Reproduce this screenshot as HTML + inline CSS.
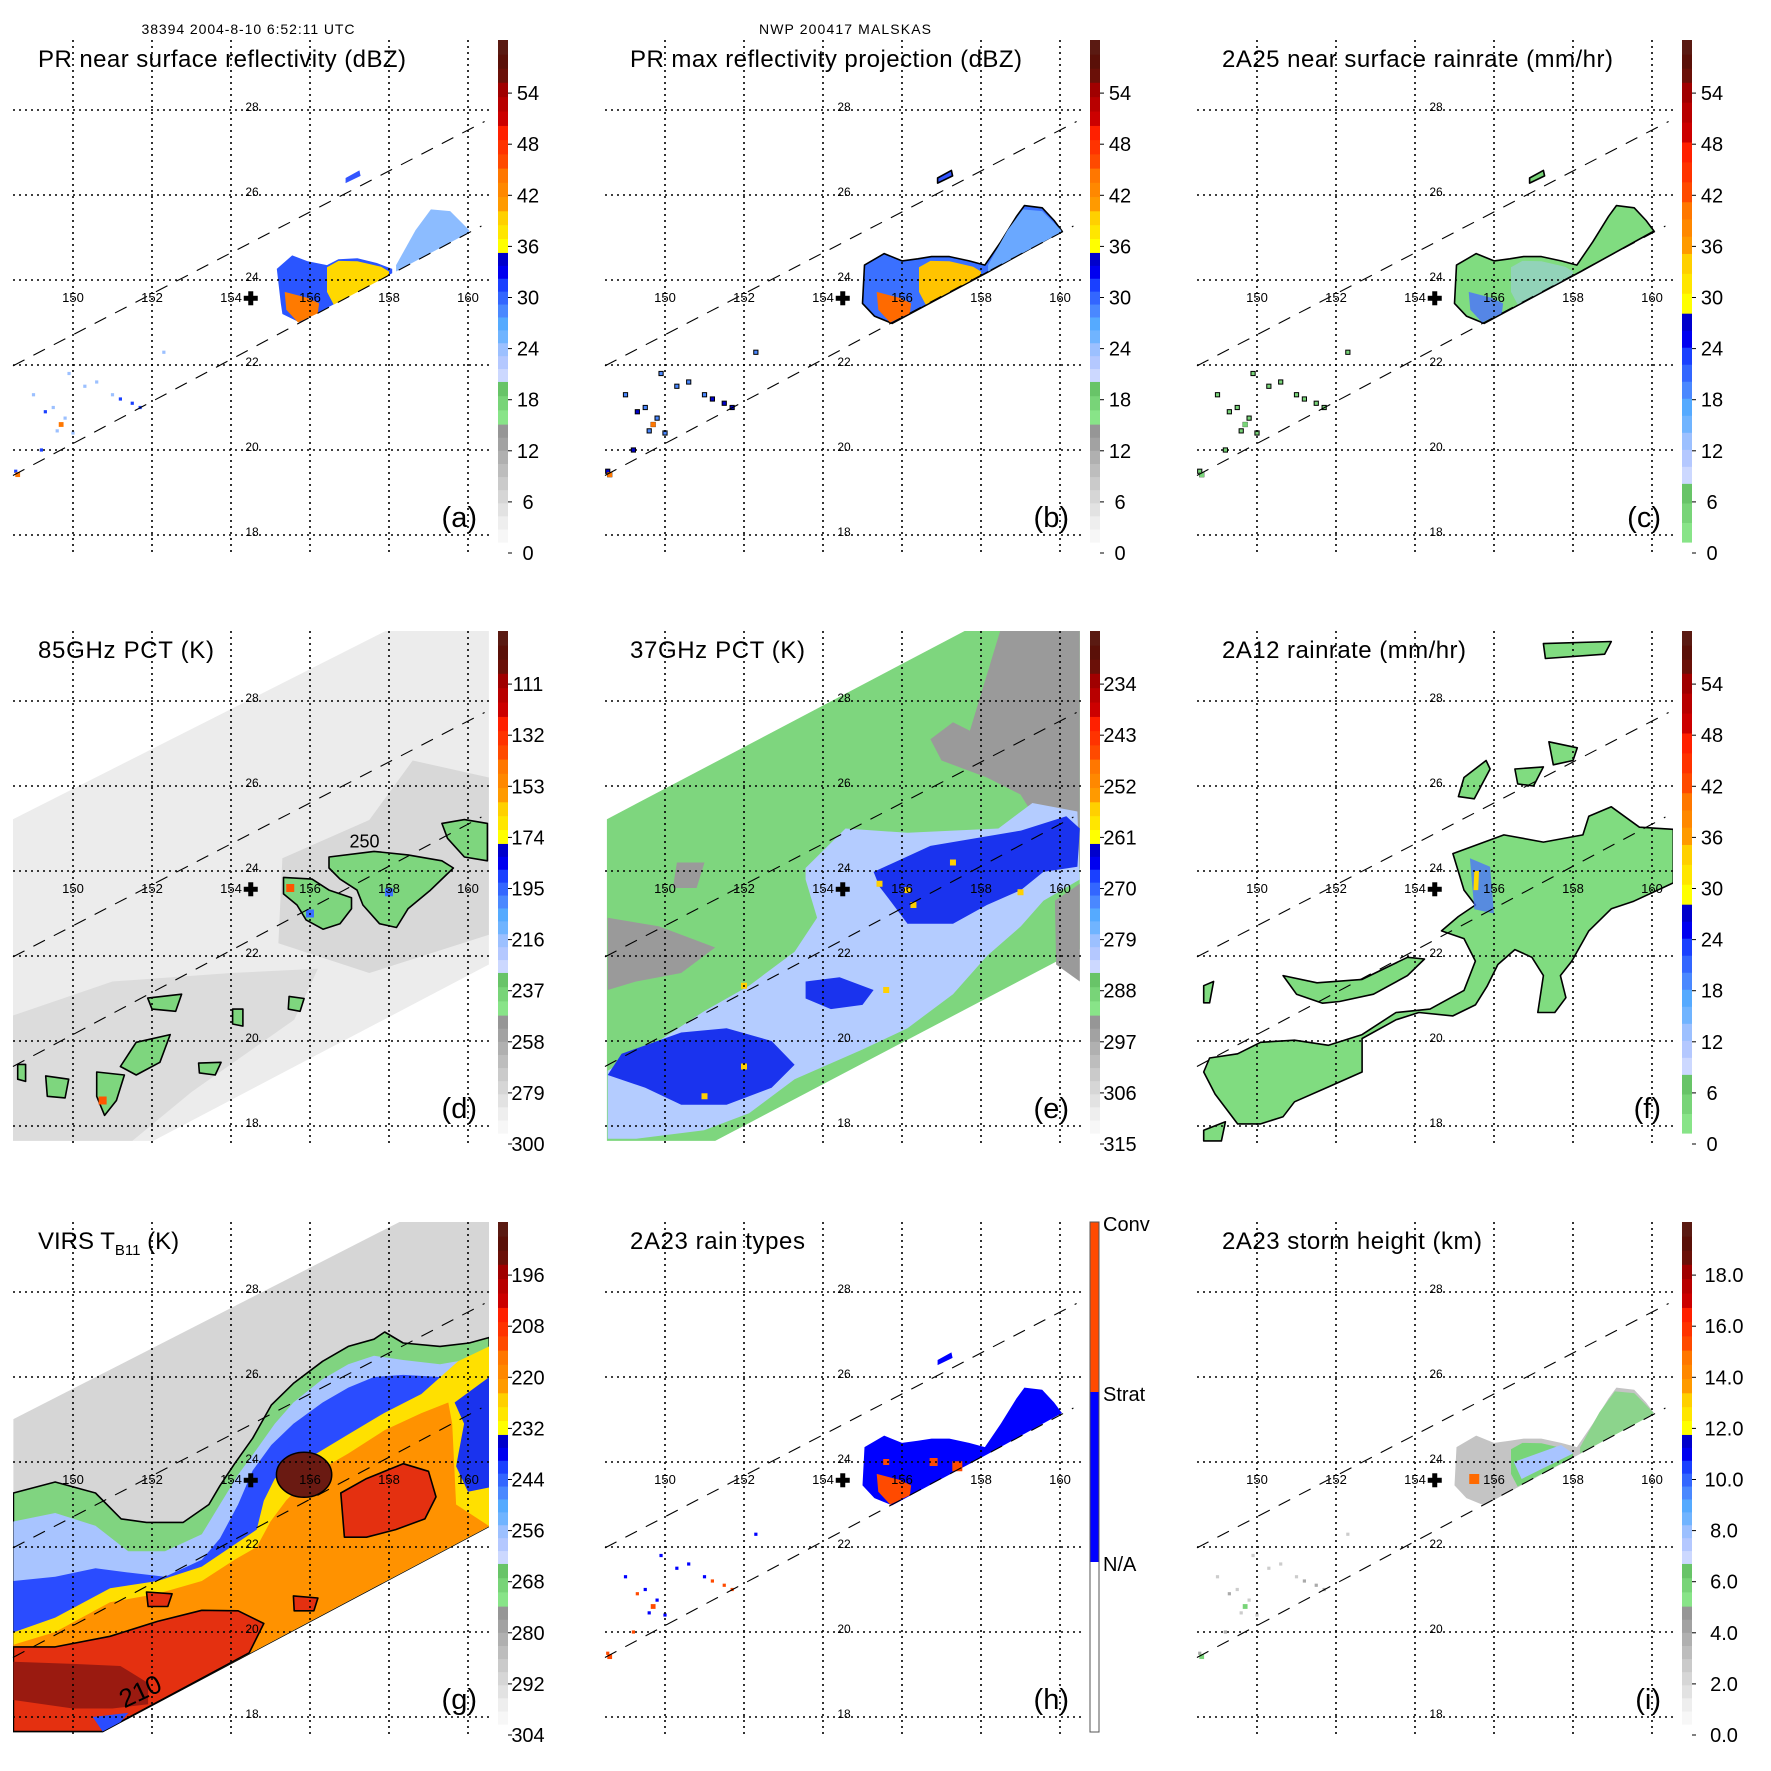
<!DOCTYPE html>
<html><head><meta charset="utf-8"><style>
html,body{margin:0;padding:0;background:#fff;}
svg{display:block;font-family:"Liberation Sans",Arial,sans-serif;}
</style></head><body>
<svg id="fig" xmlns="http://www.w3.org/2000/svg" width="1771" height="1771" viewBox="0 0 1771 1771">
<rect x="0" y="0" width="1771" height="1771" fill="#fff"/>
<defs><clipPath id="plotclip" clipPathUnits="userSpaceOnUse"><rect x="13" y="40" width="476" height="512"/></clipPath></defs>
<text x="248" y="34" font-size="14" text-anchor="middle" textLength="213">38394 2004-8-10 6:52:11 UTC</text>
<text x="845" y="34" font-size="14" text-anchor="middle" textLength="172">NWP 200417 MALSKAS</text>
</svg>
<script>
const LON_TICKS=[150,152,154,156,158,160];
const LAT_TICKS=[18,20,22,24,26,28];
const CB_DBZ=['0','6','12','18','24','30','36','42','48','54'];
const CB_RAIN=['0','6','12','18','24','30','36','42','48','54'];
const CB_85=['300','279','258','237','216','195','174','153','132','111'];
const CB_37=['315','306','297','288','279','270','261','252','243','234'];
const CB_VIRS=['304','292','280','268','256','244','232','220','208','196'];
const CB_HGT=['0.0','2.0','4.0','6.0','8.0','10.0','12.0','14.0','16.0','18.0'];
const CB_TYPES=['N/A','Strat','Conv'];
const SWATH_LO=[[148.48,19.40],[160.34,25.27]];
const SWATH_HI=[[148.48,21.98],[160.42,27.73]];
const STATION=[154.5,23.57];

const CL_ENV=[[155.0,23.45],[155.05,24.35],[155.55,24.62],[156.0,24.45],[156.4,24.5],[156.75,24.55],[157.2,24.55],[157.7,24.45],[158.1,24.35],[158.5,24.9],[158.9,25.5],[159.1,25.75],[159.55,25.7],[159.85,25.4],[160.05,25.15],[158.2,24.2],[155.75,22.98],[155.3,23.15]];
const CL_BLUE=[[155.26,23.45],[155.16,24.26],[155.55,24.58],[155.94,24.44],[156.43,24.35],[156.72,24.49],[157.2,24.51],[157.69,24.4],[158.08,24.26],[158.08,24.16],[155.74,23.0],[155.3,23.2]];
const CL_YEL=[[156.43,24.3],[156.72,24.45],[157.2,24.44],[157.8,24.31],[158.0,24.2],[158.0,24.11],[156.6,23.42],[156.43,23.72]];
const CL_ORA=[[155.36,23.72],[155.94,23.58],[156.23,23.45],[156.2,23.22],[155.7,23.0],[155.4,23.3]];
const CL_NE=[[158.18,24.35],[158.67,25.17],[159.06,25.66],[159.55,25.62],[159.84,25.35],[160.03,25.17],[160.03,25.12],[158.18,24.2]];
const CL_STREAK=[[156.9,26.4],[157.25,26.58],[157.28,26.45],[156.9,26.28]];
const SCATTER_LON=[149.7,149.6,149.8,151.2,151.5,151.0,149.2,148.55,148.6,149.5,150.3,149.0,152.3,149.9,150.6,151.7,149.3,150.0];
const SCATTER_LAT=[20.6,20.45,20.75,21.2,21.1,21.3,20.0,19.5,19.42,21.0,21.5,21.3,22.3,21.8,21.6,21.0,20.9,20.4];
const SCATTER_CAT=[3,1,1,2,2,1,2,2,3,1,1,1,1,1,1,2,2,1];

const D_SWATH=[[148.48,25.22],[157.92,29.65],[160.53,29.65],[160.53,21.8],[152.03,17.65],[148.48,17.65]];
const D_GRAY1=[[158.6,26.6],[160.53,26.2],[160.53,22.5],[157.5,21.6],[155.2,22.3],[155.3,24.3],[157.5,25.2]];
const D_GRAY2=[[148.48,20.6],[151,21.4],[154,21.6],[156.2,21.7],[155.6,20.5],[153,18.8],[151.5,17.65],[148.48,17.65]];
const D_BLOBS=[
 [[155.33,23.85],[156.05,23.81],[156.48,23.55],[157.05,23.37],[157.05,23.11],[156.76,22.76],[156.33,22.63],[155.9,22.85],[155.67,23.2],[155.33,23.46]],
 [[156.48,24.33],[157.62,24.46],[158.48,24.38],[159.34,24.24],[159.63,24.07],[159.05,23.55],[158.48,23.11],[158.19,22.67],[157.76,22.76],[157.34,23.2],[157.19,23.55],[156.76,23.81],[156.48,24.07]],
 [[159.34,25.12],[159.91,25.21],[160.49,25.12],[160.49,24.24],[159.91,24.33],[159.48,24.77]],
 [[151.89,21.01],[152.75,21.1],[152.6,20.7],[152.0,20.75]],
 [[154.04,20.75],[154.3,20.75],[154.3,20.35],[154.04,20.4]],
 [[151.6,19.97],[152.46,20.15],[152.2,19.5],[151.6,19.2],[151.2,19.4]],
 [[150.6,19.27],[151.3,19.2],[151.1,18.6],[150.8,18.25],[150.6,18.7]],
 [[149.31,19.18],[149.89,19.1],[149.8,18.66],[149.35,18.7]],
 [[153.18,19.48],[153.75,19.5],[153.6,19.2],[153.2,19.25]],
 [[155.47,21.05],[155.85,21.0],[155.75,20.7],[155.45,20.75]],
 [[148.6,19.45],[148.8,19.45],[148.8,19.05],[148.6,19.1]]];

const E_SWATH=[[148.53,25.22],[157.59,29.65],[160.5,29.65],[160.5,22.16],[151.27,17.65],[148.53,17.65]];
const E_GRAY=[
 [[157.72,27.3],[158.5,29.7],[160.5,29.7],[160.5,24.05],[159.87,24.5],[159.0,25.8],[158.15,26.2],[157.0,26.6],[156.72,27.1],[157.29,27.5]],
 [[148.55,22.9],[149.84,22.7],[151.27,22.2],[150.41,21.6],[149.27,21.4],[148.55,21.2]],
 [[150.3,24.2],[151.0,24.2],[150.8,23.6],[150.2,23.6]],
 [[159.87,23.3],[160.5,23.7],[160.5,21.4],[159.9,21.8]]];
const E_LBLUE=[[153.56,24.07],[154.57,25.0],[156.14,24.9],[158.44,25.0],[159.3,25.6],[160.44,25.4],[160.5,23.8],[159.58,23.3],[159.01,22.7],[158.15,22.0],[157.29,21.1],[156.14,20.3],[155.0,19.8],[153.28,19.1],[152.13,18.3],[150.99,17.9],[149.27,17.7],[148.55,17.7],[148.55,19.3],[149.84,20.0],[150.99,20.7],[152.13,21.3],[153.28,22.1],[153.85,22.9],[153.56,23.8]];
const E_DBLUE=[
 [[155.28,23.98],[156.72,24.59],[157.86,24.77],[159.01,24.95],[160.16,25.29],[160.5,25.0],[160.44,24.1],[159.58,23.98],[159.01,23.55],[158.15,23.2],[157.29,22.76],[156.14,22.76],[155.72,23.28],[155.43,23.63]],
 [[148.9,19.7],[150.41,20.2],[151.56,20.3],[152.7,20.0],[153.28,19.44],[152.7,18.9],[151.56,18.5],[150.41,18.5],[149.5,18.9],[148.55,19.2]],
 [[153.56,21.4],[154.42,21.5],[155.28,21.2],[155.0,20.85],[154.2,20.75],[153.56,21.0]]];
const E_HOT_LON=[156.14,156.29,157.29,159.0,151.0,152.0,155.6,152.0,155.43];
const E_HOT_LAT=[23.55,23.2,24.2,23.5,18.7,19.4,21.2,21.3,23.7];

const F_BLOBS=[
 [[154.96,24.41],[156.25,24.85],[157.25,24.68],[158.25,24.85],[158.4,25.29],[158.97,25.51],[159.68,25.03],[160.54,24.98],[160.54,23.72],[159.54,23.29],[158.97,23.11],[158.4,22.59],[157.97,21.88],[157.68,21.54],[157.82,21.02],[157.54,20.67],[157.11,20.67],[157.25,21.54],[156.96,21.97],[156.53,22.15],[156.1,21.8],[155.82,21.28],[155.53,20.85],[154.96,20.59],[154.1,20.67],[153.52,20.5],[152.66,20.06],[152.66,19.27],[151.81,18.92],[150.95,18.57],[150.66,18.22],[150.09,18.05],[149.51,18.05],[148.94,18.75],[148.65,19.27],[148.8,19.6],[149.51,19.7],[150.09,19.97],[150.95,20.02],[151.81,19.9],[152.66,20.15],[153.52,20.67],[154.38,20.75],[155.24,21.19],[155.53,21.88],[155.24,22.41],[154.67,22.59],[155.1,22.93],[155.53,23.2],[155.24,23.55]],
 [[150.66,21.54],[151.52,21.37],[152.66,21.45],[153.81,21.97],[154.24,21.93],[153.81,21.54],[152.95,21.1],[152.09,20.93],[151.66,20.89],[151.0,21.1]],
 [[155.24,26.2],[155.8,26.6],[155.9,26.4],[155.5,25.7],[155.1,25.75]],
 [[157.39,27.04],[158.11,26.9],[158.0,26.6],[157.5,26.5]],
 [[156.53,26.4],[157.25,26.45],[157.0,26.0],[156.6,26.05]],
 [[157.25,29.35],[158.97,29.4],[158.8,29.1],[157.3,29.0]],
 [[148.65,17.9],[149.2,18.1],[149.1,17.65],[148.65,17.65]],
 [[148.65,21.3],[148.9,21.4],[148.8,20.9],[148.65,20.9]]];
const F_BLUE=[[155.39,24.3],[155.9,24.1],[156.0,23.0],[155.5,23.1]];
const F_YEL=[[155.5,24.0],[155.62,24.0],[155.6,23.55],[155.48,23.55]];

const G_SWATH=[[148.49,25.01],[158.27,29.65],[160.54,29.65],[160.54,22.49],[150.75,17.66],[148.49,17.66]];
const G_GREEN=[[148.49,23.27],[149.55,23.53],[150.57,23.27],[151.22,22.66],[151.86,22.58],[152.79,22.58],[153.44,23.0],[153.72,23.44],[154.09,23.96],[154.55,24.56],[155.02,25.34],[155.58,25.85],[156.32,26.37],[156.97,26.72],[157.62,26.89],[157.89,27.06],[158.36,26.8],[159.29,26.72],[160.03,26.8],[160.54,26.93],[160.54,22.49],[150.75,17.66],[148.49,17.66]];
const G_LBLUE=[[148.49,22.6],[149.55,22.8],[150.57,22.5],[151.4,21.9],[152.33,21.9],[153.26,22.3],[153.72,23.0],[154.18,23.7],[154.65,24.3],[155.11,24.9],[155.58,25.4],[156.32,25.95],[156.97,26.3],[157.62,26.5],[158.36,26.4],[159.29,26.3],[160.54,26.5],[160.54,22.49],[150.75,17.66],[148.49,17.66]];
const G_BLUE=[[148.49,21.2],[149.55,21.3],[150.57,21.5],[151.4,21.4],[152.33,21.3],[153.26,21.7],[153.72,22.2],[154.18,23.0],[154.55,23.8],[155.02,24.4],[155.58,24.9],[156.32,25.4],[156.97,25.75],[157.62,26.0],[158.36,26.05],[159.29,26.0],[160.54,26.2],[160.54,22.49],[150.75,17.66],[148.49,17.66]];
const G_YEL=[[148.49,19.99],[149.55,20.34],[150.94,21.03],[152.14,21.2],[153.26,21.54],[154.09,22.06],[154.65,22.41],[154.83,23.09],[155.11,23.61],[156.04,24.13],[156.97,24.65],[157.89,25.16],[158.82,25.6],[159.75,26.37],[160.54,26.72],[160.54,22.49],[150.75,17.66],[148.49,17.66]];
const G_EBLUE=[[159.66,25.4],[160.54,26.0],[160.54,23.4],[160.0,23.3],[159.7,23.9],[159.9,24.9]];
const G_ORA=[[148.49,19.7],[149.55,20.0],[150.94,20.7],[152.14,20.9],[153.26,21.2],[154.09,21.7],[154.65,22.0],[155.0,22.6],[155.4,23.1],[156.04,23.7],[156.97,24.2],[157.89,24.75],[158.82,25.15],[159.5,25.4],[159.6,24.9],[159.7,23.0],[160.54,22.49],[150.75,17.66],[148.49,17.66]];
const G_RED=[
 [[148.49,19.65],[149.55,19.65],[150.94,19.9],[152.14,20.25],[153.26,20.51],[154.18,20.5],[154.83,20.2],[154.46,19.51],[150.75,17.66],[148.49,17.66]],
 [[156.78,23.27],[157.43,23.61],[157.89,23.78],[158.36,23.96],[159.0,23.78],[159.19,23.18],[158.91,22.66],[158.17,22.41],[157.43,22.23],[156.87,22.23]],
 [[151.86,20.94],[152.51,20.9],[152.4,20.6],[151.9,20.6]],
 [[155.58,20.85],[156.2,20.8],[156.1,20.5],[155.6,20.5]]];
const G_DRED=[[148.49,19.3],[150.0,19.25],[151.2,19.2],[151.9,18.8],[151.9,18.3],[151.0,18.2],[150.0,18.2],[148.49,18.4]];
const G_EYE=[155.85,23.7,0.7,0.53];
const G_BOT=[[150.5,18.0],[151.4,18.1],[151.2,17.88],[150.75,17.66]];

function X(lon){return 73+(lon-150)*39.5;}
function Y(lat){return 110+(28-lat)*42.5;}
const NS='http://www.w3.org/2000/svg';
const fig=document.getElementById('fig');
function mk(parent,tag,attrs){const el=document.createElementNS(NS,tag);for(const k in attrs)el.setAttribute(k,attrs[k]);parent.appendChild(el);return el;}
function pts(arr){return arr.map(p=>X(p[0]).toFixed(1)+','+Y(p[1]).toFixed(1)).join(' ');}
function poly(g,arr,fill,stroke,name,op){
 const el=mk(g,'polygon',{points:pts(arr),fill:fill,stroke:stroke||'none','stroke-width':1.6,'stroke-linejoin':'round'});
 if(op!==undefined)el.setAttribute('fill-opacity',op);
 
 
 return el;
}
function dot(g,lon,lat,r,fill,name){
 const el=mk(g,'rect',{x:X(lon)-r,y:Y(lat)-r,width:2*r,height:2*r,fill:fill});
 
 
}
const STEPS_A=[[0,0.235,['#f7f7f7','#eeeeee','#e2e2e2','#d6d6d6','#cacaca','#bdbdbd','#b0b0b0','#a2a2a2','#969696']],[0.235,0.32,['#88e488','#78d478','#68c468']],[0.32,0.577,['#ccd8ff','#b4c8ff','#9cc0ff','#70b4ff','#55aaff','#4a88ff','#3366ff','#1a40ff','#0000f0','#0000cc']],[0.577,0.66,['#ffff00','#ffe600','#ffd000']],[0.66,0.745,['#ff9a00','#ff8800','#ff7700']],[0.745,0.83,['#ff4a00','#ff3300','#ff2000']],[0.83,0.916,['#cc0000','#b80000','#a00000']],[0.916,1,['#6a1008','#5a1008','#5a1a12']]];
const STEPS_B=[[0,0.117,['#88e488','#78d478','#68c468']],[0.117,0.456,['#ccd8ff','#b4c8ff','#9cc0ff','#70b4ff','#55aaff','#4a88ff','#3366ff','#1a40ff','#0000f0','#0000cc']],[0.456,0.575,['#ffff00','#ffe600','#ffd000']],[0.575,0.678,['#ff9a00','#ff8800','#ff7700']],[0.678,0.797,['#ff4a00','#ff3300','#ff2000']],[0.797,0.916,['#cc0000','#b80000','#a00000']],[0.916,1,['#6a1008','#5a1008','#5a1a12']]];

function colorbar(g,steps,labels,cx){
 const top=40,bot=542,h=bot-top;
 for(const seg of steps){const n=seg[2].length;for(let i=0;i<n;i++){
  const f0=seg[0]+(seg[1]-seg[0])*i/n,f1=seg[0]+(seg[1]-seg[0])*(i+1)/n;
  const r=mk(g,'rect',{x:498,y:(bot-f1*h).toFixed(2),width:10,height:(h*(f1-f0)+0.6).toFixed(2),fill:seg[2][i]});
  
  
 }}
 labels.forEach((t,i)=>{const y=553-51.1*i;
  const tk=mk(g,'line',{x1:508,x2:512,y1:y,y2:y,stroke:'#000','stroke-width':1});
  
  
  const tx=mk(g,'text',{x:cx,y:y+7,'font-size':20,'text-anchor':'middle'});tx.textContent=t;
  
  
 });
}
function colorbarTypes(g){
 const segs=[[40,210,'#ff4a00'],[210,380,'#0000ff'],[380,550,'#ffffff']];
 segs.forEach(s=>{const r=mk(g,'rect',{x:498,y:s[0],width:9,height:s[1]-s[0],fill:s[2]});
  
  });
 const o=mk(g,'rect',{x:498,y:40,width:9,height:510,fill:'none',stroke:'#555','stroke-width':1});
 
 
 CB_TYPES.forEach((t,i)=>{const y=[381,211,41][i];
  const tx=mk(g,'text',{x:511,y:y+8,'font-size':20});tx.textContent=t;
  
  });
}
function grid(g){
 LON_TICKS.forEach(lon=>{const l=mk(g,'line',{x1:X(lon),x2:X(lon),y1:40,y2:552,stroke:'#000','stroke-width':1.6,'stroke-dasharray':'2 4'});
  
  });
 LAT_TICKS.forEach(lat=>{const l=mk(g,'line',{x1:13,x2:489,y1:Y(lat),y2:Y(lat),stroke:'#000','stroke-width':1.6,'stroke-dasharray':'2 4'});
  
  });
 [SWATH_LO,SWATH_HI].forEach((s,i)=>{const l=mk(g,'line',{x1:X(s[0][0]),y1:Y(s[0][1]),x2:X(s[1][0]),y2:Y(s[1][1]),stroke:'#000','stroke-width':1.1,'stroke-dasharray':'13 10'});
  
  });
 LAT_TICKS.forEach(lat=>{const t=mk(g,'text',{x:252,y:Y(lat)+1,'font-size':12,'text-anchor':'middle'});t.textContent=String(lat);
  
  });
 LON_TICKS.forEach(lon=>{const t=mk(g,'text',{x:X(lon),y:302,'font-size':13,'text-anchor':'middle'});t.textContent=String(lon);
  
  });
 const cx=X(STATION[0]),cy=Y(STATION[1]);
 const c1=mk(g,'rect',{x:cx-7,y:cy-2.5,width:14,height:5,fill:'#000'});
 
 
 const c2=mk(g,'rect',{x:cx-2.5,y:cy-7,width:5,height:14,fill:'#000'});
 
 
}
const SCAT_COL={a:['#9cc0ff','#1a40ff','#ff7700'],b:['#4a88ff','#0000cc','#ff7700'],c:['#78d478','#78d478','#78d478'],h:['#0000ff','#ff4a00','#ff4a00'],i:['#cccccc','#aaaaaa','#78d478']};
function scatter(g,key,outline){
 SCATTER_LON.forEach((lon,i)=>{const col=SCAT_COL[key][SCATTER_CAT[i]-1];
  if(outline)dot(g,lon,SCATTER_LAT[i],2.6,'#000','rain-pixel-outline');
  dot(g,lon,SCATTER_LAT[i],SCATTER_CAT[i]===3?2.4:1.6,col,'rain-pixel');});
}
const panels=[
 {k:'a',c:0,r:0,title:'PR near surface reflectivity (dBZ)',tl:368,cb:STEPS_A,lab:CB_DBZ,cx:528},
 {k:'b',c:1,r:0,title:'PR max reflectivity projection (dBZ)',tl:392,cb:STEPS_A,lab:CB_DBZ,cx:528},
 {k:'c',c:2,r:0,title:'2A25 near surface rainrate (mm/hr)',tl:391,cb:STEPS_B,lab:CB_RAIN,cx:528},
 {k:'d',c:0,r:1,title:'85GHz PCT (K)',tl:176,cb:STEPS_A,lab:CB_85,cx:528},
 {k:'e',c:1,r:1,title:'37GHz PCT (K)',tl:175,cb:STEPS_A,lab:CB_37,cx:528},
 {k:'f',c:2,r:1,title:'2A12 rainrate (mm/hr)',tl:244,cb:STEPS_B,lab:CB_RAIN,cx:528},
 {k:'g',c:0,r:2,title:'VIRS',tl:148,cb:STEPS_A,lab:CB_VIRS,cx:528},
 {k:'h',c:1,r:2,title:'2A23 rain types',tl:175,cb:null,lab:null,cx:528},
 {k:'i',c:2,r:2,title:'2A23 storm height (km)',tl:260,cb:STEPS_A,lab:CB_HGT,cx:540}];
panels.forEach(p=>{
 const g=mk(fig,'g',{transform:`translate(${592*p.c},${591*p.r})`});
 
 
 const d=mk(g,'g',{'clip-path':'url(#plotclip)'});
 
 
 drawData(d,p.k);
 grid(g);
 if(p.cb)colorbar(g,p.cb,p.lab,p.cx);else colorbarTypes(g);
 const t=mk(g,'text',{x:38,y:67,'font-size':24});
 if(p.k==='g'){t.innerHTML='VIRS T<tspan font-size="15" dy="6">B11</tspan><tspan dy="-6"> (K)</tspan>';}
 else{t.textContent=p.title;t.setAttribute('textLength',p.tl);}
 
 
 const L=mk(g,'text',{x:477,y:527,'font-size':29,'text-anchor':'end'});L.textContent='('+p.k+')';
 
 
});
function drawData(d,k){
 if(k==='a'){poly(d,CL_BLUE,'#2a55ff','none','rain-cluster');poly(d,CL_NE,'#8cbcff','none','rain-ne');poly(d,CL_YEL,'#ffd800','none','rain-yellow');poly(d,CL_ORA,'#ff7a00','none','rain-orange');poly(d,CL_STREAK,'#3355ff','none','rain-streak');scatter(d,'a',false);}
 if(k==='b'){poly(d,CL_ENV,'#3a70ff','#000','rain-envelope');poly(d,CL_NE,'#6aa8ff','none','rain-ne');poly(d,CL_YEL,'#ffc400','none','rain-yellow');poly(d,CL_ORA,'#ff6a00','none','rain-orange');poly(d,CL_STREAK,'#3355ff','#000','rain-streak');scatter(d,'b',true);}
 if(k==='c'){poly(d,CL_ENV,'#80dc80','#000','rain-envelope');poly(d,CL_YEL,'#a8c8ff','none','rain-light',0.45);poly(d,CL_ORA,'#4a70ff','none','rain-heavy',0.8);poly(d,CL_STREAK,'#78d478','#000','rain-streak');scatter(d,'c',true);}
 if(k==='d'){poly(d,D_SWATH,'#ececec','none','tmi-swath');poly(d,D_GRAY1,'#a8a8a8','none','ice-scatter',0.3);poly(d,D_GRAY2,'#b4b4b4','none','ice-scatter',0.28);
  D_BLOBS.forEach(b=>poly(d,b,'#7ed67e','#000','pct-contour-blob'));
  dot(d,155.5,23.6,4,'#ff5500','pct-min');dot(d,150.75,18.6,4,'#ff5500','pct-min');dot(d,156.0,23.0,4,'#3a70ff','pct-blue');dot(d,158.0,23.5,4,'#3a70ff','pct-blue');
  const t=mk(d,'text',{x:X(157.0),y:Y(24.55),'font-size':18});t.textContent='250';
  
  }
 if(k==='e'){poly(d,E_SWATH,'#7ed67e','none','tmi-swath');E_GRAY.forEach(b=>poly(d,b,'#9a9a9a','none','warm-region'));poly(d,E_LBLUE,'#b4ccff','none','scatter-light');
  E_DBLUE.forEach(b=>poly(d,b,'#1a33ee','none','scatter-strong'));
  E_HOT_LON.forEach((lon,i)=>dot(d,lon,E_HOT_LAT[i],3,'#ffd000','pct-min'));}
 if(k==='f'){F_BLOBS.forEach(b=>poly(d,b,'#80dc80','#000','rain-area'));poly(d,F_BLUE,'#4a70ff','none','rain-heavy',0.75);poly(d,F_YEL,'#ffd800','none','rain-max');}
 if(k==='g'){poly(d,G_SWATH,'#d6d6d6','none','virs-swath');poly(d,G_GREEN,'#80d480','#000','cloud-268');poly(d,G_LBLUE,'#a8c4ff','none','cloud-256');poly(d,G_BLUE,'#2a4cff','none','cloud-244');
  poly(d,G_YEL,'#ffe000','none','cloud-232');poly(d,G_EBLUE,'#1a33ee','none','cloud-244-east');poly(d,G_ORA,'#ff9200','none','cloud-220');
  G_RED.forEach(b=>poly(d,b,'#e43010','#000','cloud-210'));poly(d,G_DRED,'#9a1a10','none','cloud-200');poly(d,G_BOT,'#2a4cff','none','cloud-244-south');
  const e=mk(d,'ellipse',{cx:X(G_EYE[0]),cy:Y(G_EYE[1]),rx:G_EYE[2]*39.5,ry:G_EYE[3]*42.5,fill:'#6a1a12',stroke:'#000','stroke-width':1.5});
  
  
  const t=mk(d,'text',{x:X(151.3),y:Y(18.2),'font-size':26,transform:`rotate(-25 ${X(151.3)} ${Y(18.2)})`});t.textContent='210';
  
  }
 if(k==='h'){poly(d,CL_ENV,'#0000ff','none','stratiform-area');poly(d,CL_ORA,'#ff4a00','none','convective-area');
  dot(d,156.8,24.0,4,'#ff4a00','convective-pixel');dot(d,157.4,23.9,5,'#ff4a00','convective-pixel');dot(d,155.6,24.0,3,'#ff4a00','convective-pixel');
  poly(d,CL_STREAK,'#0000ff','none','stratiform-streak');scatter(d,'h',false);}
 if(k==='i'){poly(d,CL_ENV,'#c4c4c4','none','echo-top-low');poly(d,CL_YEL,'#78d478','none','echo-top-mid');poly(d,CL_NE,'#8cd48c','none','echo-top-ne');
  poly(d,[[156.5,24.0],[157.7,24.4],[158.0,24.2],[156.7,23.6]],'#a8c4ff','none','echo-top-high');dot(d,155.5,23.6,5,'#ff6a00','echo-top-max');scatter(d,'i',false);}
}
</script>
</body></html>
